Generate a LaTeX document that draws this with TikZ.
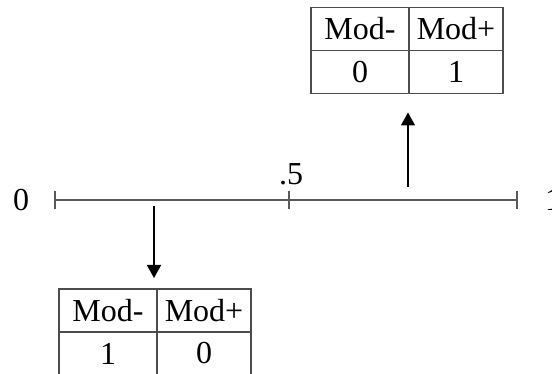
\documentclass[tikz,border=0pt]{standalone}
\usepackage{fontspec}
\setmainfont{Liberation Serif}
\usetikzlibrary{arrows.meta, positioning}

\begin{document}
\begin{tikzpicture}[
    x=1pt, y=1pt,
    font=\fontsize{32}{36}\selectfont,
    cell/.style={draw=black!70, line width=1.2pt, minimum width=94pt, minimum height=43pt, inner sep=0pt, outer sep=0pt},
    wide/.style={minimum width=98pt},
    axisline/.style={draw=black!65, line width=1.3pt},
    arrow/.style={-{Triangle[length=13pt, width=14pt]}, line width=1.6pt}
]
\useasboundingbox (0,0) rectangle (552,374);

% --- Axis ---
\coordinate (lo) at (55,174);
\coordinate (mid) at (289,174);
\coordinate (hi) at (517,174);
\draw[axisline] (lo) -- (hi);
\foreach \p in {lo, mid, hi}
  \draw[axisline] ([yshift=-9pt]\p) -- ([yshift=9pt]\p);

\node (zero) at (21,174) {0};
\node (one) at (553,174) {1};
\node[anchor=base] (half) at (291,189) {.5};

% --- Tables ---
\node[cell, wide] (upMinus) at (360,345) {Mod-};
\node[cell, right=0pt of upMinus] (upPlus) {Mod+};
\node[cell, wide, below=0pt of upMinus] (upZero) {0};
\node[cell, below=0pt of upPlus] (upOne) {1};

\node[cell, wide] (loMinus) at (108,63.5) {Mod-};
\node[cell, right=0pt of loMinus] (loPlus) {Mod+};
\node[cell, wide, below=0pt of loMinus] (loOne) {1};
\node[cell, below=0pt of loPlus] (loZero) {0};

% --- Arrows ---
\coordinate (upTail) at (408,187);
\coordinate (loTail) at (154,168);
\draw[arrow, shorten >=19pt] (upTail) -- (upTail |- upZero.south);
\draw[arrow, shorten >=11pt] (loTail) -- (loTail |- loMinus.north);

\end{tikzpicture}
\end{document}
